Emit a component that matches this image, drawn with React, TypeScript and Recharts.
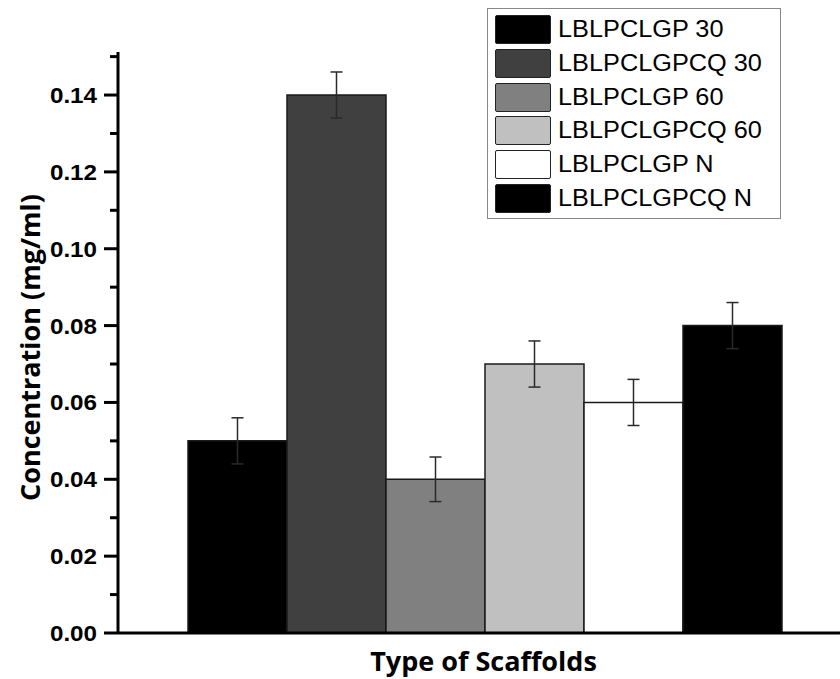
import { BarChart, Bar, XAxis, YAxis, ErrorBar, Legend } from 'recharts';

// one scaffold group, six samples
const seriesNames = [
  'LBLPCLGP 30',
  'LBLPCLGPCQ 30',
  'LBLPCLGP 60',
  'LBLPCLGPCQ 60',
  'LBLPCLGP N',
  'LBLPCLGPCQ N',
];
const seriesValues = [0.05, 0.14, 0.04, 0.07, 0.06, 0.08];
const seriesErrors = [0.006, 0.006, 0.0058, 0.006, 0.006, 0.006];
const seriesColors = ['#000000', '#404040', '#808080', '#c0c0c0', '#ffffff', '#000000'];
const yTicks = [0, 0.01, 0.02, 0.03, 0.04, 0.05, 0.06, 0.07, 0.08, 0.09, 0.1, 0.11, 0.12, 0.13, 0.14, 0.15];

const row: Record<string, number | string> = { name: 'Scaffolds' };
seriesNames.forEach((n, i) => {
  row[`s${i}`] = seriesValues[i];
  row[`e${i}`] = seriesErrors[i];
});
const data = [row];

const boldFont = '"Open Sans", Arial, sans-serif';
const plainFont = '"Liberation Sans", Arial, sans-serif';

function YTick(props: any) {
  const { x, y, payload } = props;
  const v = payload.value as number;
  const major = Math.round(v * 100) % 2 === 0;
  return (
    <g>
      <line x1={x - (major ? 14 : 8)} x2={x} y1={y} y2={y} stroke="#000" strokeWidth={3} />
      {major && (
        <g transform={`translate(${x - 21},${y + 8}) scale(1.1,1)`}>
          <text x={0} y={0} textAnchor="end" fontFamily={plainFont} fontWeight="bold" fontSize={22} fill="#000">
            {v.toFixed(2)}
          </text>
        </g>
      )}
    </g>
  );
}

function YLabel(props: any) {
  const { viewBox } = props;
  const cx = viewBox.x + 29;
  const cy = viewBox.y + viewBox.height / 2 + 5;
  return (
    <text
      x={cx}
      y={cy}
      transform={`rotate(-90, ${cx}, ${cy})`}
      textAnchor="middle"
      dominantBaseline="central"
      fontFamily={boldFont}
      fontWeight="bold"
      fontSize={27}
      fill="#000"
    >
      Concentration (mg/ml)
    </text>
  );
}

function XLabel(props: any) {
  const { viewBox } = props;
  return (
    <text
      x={viewBox.x + viewBox.width / 2}
      y={viewBox.y + 38}
      textAnchor="middle"
      fontFamily={boldFont}
      fontWeight="bold"
      fontSize={27}
      fill="#000"
    >
      Type of Scaffolds
    </text>
  );
}

function LegendBox(props: any) {
  const payload = [...(props.payload || [])].sort(
    (a: any, b: any) => seriesNames.indexOf(a.value) - seriesNames.indexOf(b.value)
  );
  return (
    <div
      style={{
        border: '1.5px solid #888',
        background: '#fff',
        padding: '4px 0 3px 7px',
        width: 294,
        boxSizing: 'border-box',
      }}
    >
      {payload.map((p: any, i: number) => (
        <div key={i} style={{ display: 'flex', alignItems: 'center', height: 33.7 }}>
          <span
            style={{
              display: 'inline-block',
              width: 56,
              height: 29,
              background: p.color,
              border: '1.5px solid #222',
              borderRadius: 2,
              boxSizing: 'border-box',
            }}
          />
          <span
            style={{
              display: 'inline-block',
              marginLeft: 7,
              fontFamily: plainFont,
              fontSize: 23,
              color: '#000',
              transform: 'scaleX(1.1)',
              transformOrigin: 'left center',
              whiteSpace: 'nowrap',
            }}
          >
            {p.value}
          </span>
        </div>
      ))}
    </div>
  );
}

export default function App() {
  return (
    <div style={{ position: 'absolute', left: 0, top: 0, width: 840, height: 679, overflow: 'hidden', background: '#fff' }}>
      <BarChart
        width={860}
        height={679}
        data={data}
        margin={{ top: 52, right: 11, left: 0, bottom: 0 }}
        barCategoryGap={70}
        barGap={0}
      >
        <XAxis
          dataKey="name"
          height={46}
          tick={false}
          tickLine={false}
          axisLine={{ stroke: '#000', strokeWidth: 3 }}
          label={<XLabel />}
        />
        <YAxis
          width={118}
          domain={[0, 0.1512]}
          ticks={yTicks}
          interval={0}
          tickSize={0}
          tickMargin={0}
          tickLine={false}
          tick={<YTick />}
          axisLine={{ stroke: '#000', strokeWidth: 3 }}
          label={<YLabel />}
        />
        <Legend
          layout="horizontal"
          verticalAlign="middle"
          align="center"
          content={<LegendBox />}
          wrapperStyle={{ top: 8, left: 487, width: 294 }}
        />
        {seriesNames.map((n, i) => (
          <Bar
            key={n}
            dataKey={`s${i}`}
            name={n}
            fill={seriesColors[i]}
            stroke="#1a1a1a"
            strokeWidth={1.5}
            isAnimationActive={false}
          >
            <ErrorBar dataKey={`e${i}`} width={6} stroke="#2a2a2a" strokeWidth={1.5} />
          </Bar>
        ))}
      </BarChart>
    </div>
  );
}
